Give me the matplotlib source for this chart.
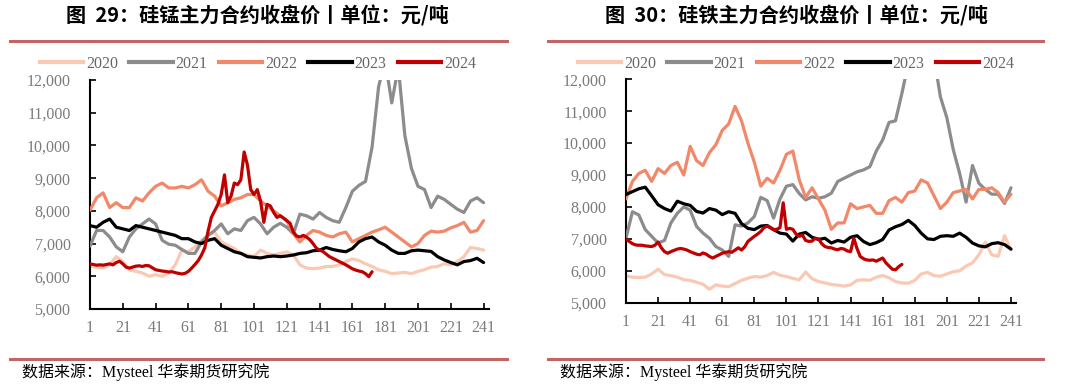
import matplotlib
matplotlib.use("Agg")
import matplotlib.pyplot as plt
from matplotlib.lines import Line2D
from matplotlib.ticker import FuncFormatter

plt.rcParams['font.family'] = ['Liberation Serif', 'Noto Sans CJK SC', 'DejaVu Sans']

# ---------------- data ----------------
years = ['2020', '2021', '2022', '2023', '2024']
colors = ['#F9C9B4', '#8C8C8C', '#F2886A', '#000000', '#C00000']

days = list(range(1, 242, 4))          # 1, 5, ..., 241
days_2024 = list(range(1, 174, 2))     # 1, 3, ..., 173

# 硅锰 (left)
sm_2020 = [6300, 6280, 6260, 6350, 6600, 6450, 6200, 6150, 6100, 6000,
           6050, 6000, 6100, 6350, 6800, 6750, 6900, 7100, 7250, 7350,
           7050, 6950, 6850, 6700, 6650, 6600, 6800, 6700, 6650, 6700,
           6750, 6650, 6350, 6250, 6230, 6250, 6300, 6300, 6350, 6450,
           6530, 6480, 6380, 6300, 6200, 6150, 6080, 6100, 6120, 6080,
           6150, 6200, 6280, 6300, 6380, 6350, 6450, 6600, 6880, 6850, 6800]
sm_2021 = [6920, 7400, 7400, 7200, 6900, 6750, 7200, 7450, 7600, 7750,
           7600, 7100, 6980, 6950, 6820, 6700, 6700, 7050, 7250, 7400,
           7600, 7300, 7450, 7400, 7700, 7800, 7600, 7300, 7500, 7620,
           7500, 7300, 7900, 7850, 7750, 7950, 7800, 7700, 7650, 8100,
           8600, 8780, 8900, 9950, 11800, 12600, 11300, 12400, 10300, 9300,
           8750, 8650, 8100, 8450, 8350, 8200, 8050, 7950, 8300, 8400, 8250]
sm_2022 = [8020, 8400, 8550, 8100, 8250, 8100, 8100, 8400, 8300, 8550,
           8750, 8850, 8700, 8700, 8750, 8700, 8800, 8950, 8600, 8450,
           8150, 8250, 8350, 8400, 8500, 8500, 8300, 8150, 8000, 7850,
           7700, 7300, 7050, 7250, 7400, 7350, 7250, 7200, 7300, 7350,
           7050, 7150, 7250, 7350, 7420, 7500, 7350, 7200, 7050, 6900,
           7000, 7250, 7380, 7350, 7380, 7480, 7550, 7650, 7350, 7400, 7700]
sm_2023 = [7550, 7500, 7650, 7750, 7500, 7450, 7400, 7550, 7500, 7450,
           7400, 7350, 7300, 7250, 7150, 7150, 7050, 7000, 7100, 7150,
           6950, 6850, 6750, 6700, 6600, 6580, 6560, 6600, 6620, 6600,
           6620, 6650, 6700, 6720, 6780, 6800, 6880, 6820, 6780, 6750,
           6850, 7050, 7150, 7200, 7050, 6950, 6800, 6700, 6700, 6780,
           6800, 6780, 6760, 6600, 6500, 6420, 6350, 6450, 6480, 6550, 6420]
sm_2024 = [6380, 6360, 6340, 6350, 6340, 6360, 6380, 6350, 6420, 6460,
           6380, 6280, 6250, 6280, 6310, 6320, 6300, 6330, 6320, 6260,
           6200, 6180, 6160, 6150, 6130, 6140, 6110, 6090, 6070, 6090,
           6150, 6250, 6360, 6480, 6650, 6870, 7380, 7800, 8000, 8200,
           8500, 9100, 8250, 8450, 8850, 8800, 8950, 9800, 9400, 8650,
           8500, 8650, 8300, 7650, 8200, 8150, 7950, 7800, 7850, 7780,
           7700, 7620, 7350, 7230, 7200, 7250, 7200, 7120, 7000, 6860,
           6800, 6760, 6680, 6600, 6550, 6500, 6450, 6400, 6350, 6290,
           6230, 6190, 6160, 6140, 6080, 5990, 6140]

# 硅铁 (right)
sf_2020 = [5840, 5800, 5790, 5800, 5900, 6050, 5880, 5850, 5800, 5720,
           5700, 5640, 5580, 5420, 5560, 5520, 5500, 5600, 5700, 5770,
           5820, 5800, 5850, 5950, 5860, 5820, 5760, 5720, 5960, 5750,
           5660, 5620, 5570, 5550, 5520, 5560, 5700, 5720, 5700, 5800,
           5850, 5780, 5660, 5620, 5610, 5700, 5900, 5950, 5850, 5830,
           5900, 5970, 6000, 6150, 6250, 6500, 6900, 6500, 6450, 7100, 6650]
sf_2021 = [7020, 7850, 7750, 7290, 7080, 6870, 6950, 7500, 7800, 8000,
           7900, 7390, 7180, 7020, 6760, 6650, 6450, 7440, 7400, 7500,
           7700, 8300, 8200, 7650, 8250, 8650, 8700, 8420, 8220, 8320,
           8270, 8320, 8430, 8800, 8900, 9000, 9100, 9160, 9260, 9750,
           10100, 10650, 10700, 11560, 12500, 13000, 13200, 13000, 12700, 11450,
           10800, 9800, 9050, 8150, 9300, 8740, 8550, 8400, 8400, 8110, 8600]
sf_2022 = [8250, 8800, 9050, 9150, 8800, 9200, 9050, 9300, 9400, 9000,
           9900, 9450, 9300, 9700, 9950, 10400, 10600, 11150, 10700, 10000,
           9400, 8650, 8900, 8750, 9150, 9650, 9750, 8850, 8300, 8600,
           8250, 7900, 7300, 7500, 7500, 8100, 7950, 8000, 8050, 7800,
           7800, 8200, 8300, 8150, 8450, 8500, 8850, 8750, 8350, 7950,
           8150, 8450, 8500, 8550, 8250, 8550, 8550, 8600, 8450, 8150, 8400]
sf_2023 = [8390, 8480, 8570, 8620, 8350, 8070, 7950, 7870, 8180, 8100,
           8050, 7860, 7810, 7950, 7900, 7760, 7850, 7800, 7480, 7330,
           7290, 7400, 7420, 7290, 7180, 7150, 6930, 7150, 7200, 7050,
           6980, 7020, 6870, 6950, 6900, 7050, 7100, 6920, 6820, 6880,
           6980, 7280, 7380, 7450, 7580, 7420, 7180, 7000, 6980, 7080,
           7100, 7080, 7180, 7050, 6870, 6780, 6750, 6850, 6880, 6820, 6680]
sf_2024 = [7000, 6920, 6850, 6810, 6800, 6800, 6780, 6770, 6760, 6800,
           6900, 6720, 6600, 6550, 6600, 6640, 6680, 6700, 6680, 6650,
           6600, 6560, 6520, 6500, 6560, 6520, 6450, 6400, 6450, 6500,
           6550, 6580, 6600, 6580, 6650, 6720, 6650, 6750, 6920, 7000,
           7080, 7150, 7230, 7350, 7400, 7350, 7290, 7300, 7350, 8130,
           7300, 7330, 7300, 7150, 7080, 7120, 6950, 6920, 6930, 7020,
           7000, 6850, 6760, 6730, 6720, 6680, 6660, 6700, 6680, 6620,
           6600, 7020, 6700, 6450, 6380, 6340, 6330, 6340, 6300, 6350,
           6400, 6250, 6150, 6050, 6030, 6130, 6200]

xticks = list(range(1, 242, 20))
yticks = list(range(5000, 12001, 1000))

titles = ['图  29：硅锰主力合约收盘价丨单位：元/吨',
          '图  30：硅铁主力合约收盘价丨单位：元/吨']
source = '数据来源：Mysteel 华泰期货研究院'

# ---------------- figure ----------------
W, H = 1080, 389
fig = plt.figure(figsize=(W / 100, H / 100), dpi=100)

tick_color = '#7B7B7B'
rule_color = '#C46464'
lw = 2.3

panels = [
    dict(rect=[90 / W, 1 - 309 / H, 398.5 / W, 229 / H],
         series=[sm_2020, sm_2021, sm_2022, sm_2023, sm_2024],
         title_x=257, rule=(10, 507), src_x=22, leg_x=258),
    dict(rect=[626 / W, 1 - 302.7 / H, 389.8 / W, 223.4 / H],
         series=[sf_2020, sf_2021, sf_2022, sf_2023, sf_2024],
         title_x=796, rule=(548, 1043), src_x=560, leg_x=796),
]

for i, p in enumerate(panels):
    ax = fig.add_axes(p['rect'])
    for j, (yr, col, vals) in enumerate(zip(years, colors, p['series'])):
        xs = days_2024 if yr == '2024' else days
        ax.plot(xs, vals, color=col, lw=lw, solid_joinstyle='round',
                solid_capstyle='round', zorder=2 + j)
    ax.set_xlim(1, 244)
    ax.set_ylim(5000, 12000)
    ax.set_xticks(xticks)
    ax.set_yticks(yticks)
    ax.yaxis.set_major_formatter(FuncFormatter(lambda v, _: f'{int(v):,}'))
    for s in ['top', 'right']:
        ax.spines[s].set_visible(False)
    for s in ['left', 'bottom']:
        ax.spines[s].set_linewidth(1.5)
        ax.spines[s].set_color('black')
    ax.tick_params(axis='y', direction='in', length=4, width=1.2, pad=14,
                   labelsize=11.5, labelcolor=tick_color)
    ax.tick_params(axis='x', direction='in', length=4, width=1.2, pad=8,
                   labelsize=11.5, labelcolor=tick_color)
    for lab in ax.get_xticklabels() + ax.get_yticklabels():
        lab.set_fontfamily('Liberation Serif')

    handles = [Line2D([], [], color=c, lw=3) for c in colors]
    fig.legend(handles, years, loc='center',
               bbox_to_anchor=(p['leg_x'] / W, 1 - 64 / H), ncol=5,
               frameon=False, handlelength=2.7, handletextpad=0.2,
               columnspacing=0.7,
               prop={'family': 'Liberation Serif', 'size': 11.5},
               labelcolor='#666666')

    fig.text(p['title_x'] / W, 1 - 16 / H, titles[i], ha='center',
             va='center', fontsize=14.5, fontweight='bold',
             family=['Noto Sans CJK SC', 'DejaVu Sans'])
    x0, x1 = p['rule']
    fig.add_artist(Line2D([x0 / W, x1 / W], [1 - 41 / H, 1 - 41 / H],
                          color=rule_color, lw=2.2))
    fig.add_artist(Line2D([x0 / W, x1 / W], [1 - 359 / H, 1 - 359 / H],
                          color=rule_color, lw=2.2))
    fig.text(p['src_x'] / W, 1 - 372 / H, source, ha='left', va='center',
             fontsize=11.5,
             family=['Liberation Serif', 'Noto Sans CJK SC', 'DejaVu Sans'])

fig.savefig('out.png', dpi=100)
